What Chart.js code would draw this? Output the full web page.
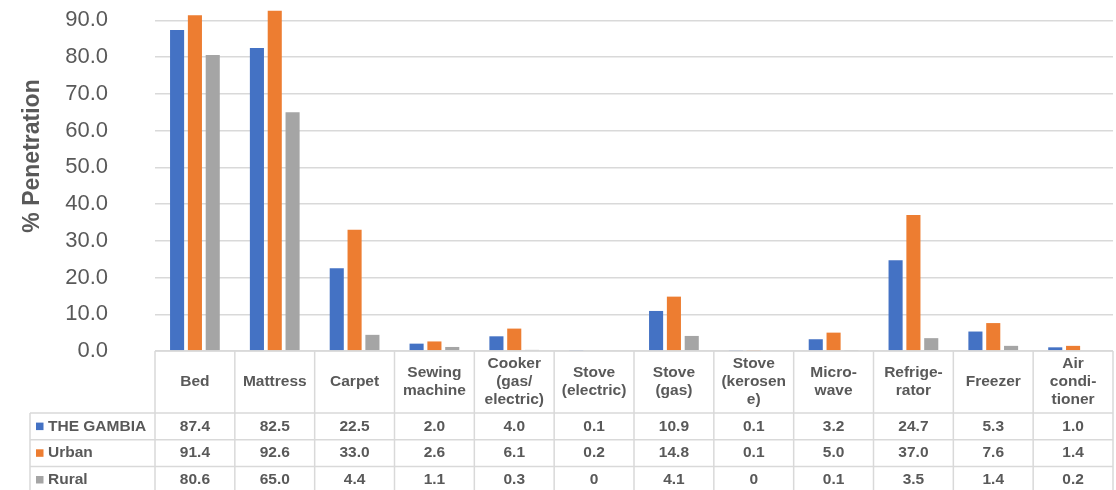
<!DOCTYPE html>
<html>
<head>
<meta charset="utf-8">
<title>Penetração de bens domésticos</title>
<script src="https://cdn.jsdelivr.net/npm/chart.js"></script>
<style>
  body { margin: 0; background: #ffffff; }
</style>
</head>
<body>
<canvas id="myChart" width="1116" height="490"></canvas>
<script>
// categorias (quebradas em linhas como aparecem no cabeçalho da tabela)
const categorias = [
    ['Bed'], ['Mattress'], ['Carpet'], ['Sewing', 'machine'],
    ['Cooker', '(gas/', 'electric)'], ['Stove', '(electric)'], ['Stove', '(gas)'],
    ['Stove', '(kerosen', 'e)'], ['Micro-', 'wave'], ['Refrige-', 'rator'],
    ['Freezer'], ['Air', 'condi-', 'tioner']
];
const series = ['THE GAMBIA', 'Urban', 'Rural'];
const gambia = [87.4, 82.5, 22.5, 2.0, 4.0, 0.1, 10.9, 0.1, 3.2, 24.7, 5.3, 1.0];
const urbano = [91.4, 92.6, 33.0, 2.6, 6.1, 0.2, 14.8, 0.1, 5.0, 37.0, 7.6, 1.4];
const rural = [80.6, 65.0, 4.4, 1.1, 0.3, 0, 4.1, 0, 0.1, 3.5, 1.4, 0.2];
const ticksY = [0, 10, 20, 30, 40, 50, 60, 70, 80, 90];
const topoY = 95;

const cores = ['#4472C4', '#ED7D31', '#A5A5A5'];
const corTexto = '#595959';
const corLinha = '#d9d9d9';
const fonte = '"Liberation Sans", Arial, sans-serif';

function formatar(v) {
    return v === 0 ? '0' : v.toFixed(1);
}

// tabela de dados embaixo do gráfico + título do eixo Y
const tabela = {
    id: 'tabela',
    afterDraw(chart) {
        const c = chart.ctx;
        const x = chart.scales.x;
        const area = chart.chartArea;
        const n = chart.data.labels.length;
        const larg = (x.right - x.left) / n;
        const topo = area.bottom;
        const cab = topo + 62;
        const linha = 26.7;
        const esq = 30;
        const fim = chart.height + 5;

        c.save();
        c.strokeStyle = corLinha;
        c.lineWidth = 1.5;
        c.beginPath();
        c.moveTo(x.left, topo);
        c.lineTo(x.right, topo);
        for (let k = 0; k < 4; k++) {
            c.moveTo(esq, cab + k * linha);
            c.lineTo(x.right, cab + k * linha);
        }
        for (let i = 0; i <= n; i++) {
            c.moveTo(x.left + i * larg, topo);
            c.lineTo(x.left + i * larg, fim);
        }
        c.moveTo(esq, cab);
        c.lineTo(esq, fim);
        c.stroke();

        c.fillStyle = corTexto;
        c.font = 'bold 15.5px ' + fonte;
        c.textAlign = 'center';
        c.textBaseline = 'middle';

        // cabeçalho
        chart.data.labels.forEach(function (lbl, i) {
            const cx = x.getPixelForValue(i);
            const y0 = (topo + cab) / 2 - (lbl.length - 1) * 9;
            lbl.forEach(function (t, j) {
                c.fillText(t, cx, y0 + j * 18);
            });
        });

        // linhas de valores
        chart.data.datasets.forEach(function (ds, s) {
            const cy = cab + s * linha + linha / 2;
            ds.data.forEach(function (v, i) {
                c.fillText(formatar(v), x.getPixelForValue(i), cy);
            });
            c.fillStyle = ds.backgroundColor;
            c.fillRect(36, cy - 3.75, 7.5, 7.5);
            c.fillStyle = corTexto;
            c.textAlign = 'left';
            c.fillText(ds.label, 48, cy);
            c.textAlign = 'center';
        });

        // título do eixo Y
        c.translate(32.5, 156);
        c.rotate(-Math.PI / 2);
        c.font = 'bold 23px ' + fonte;
        c.fillText('% Penetration', 0, 0);
        c.restore();
    }
};

//Gráfico de Barras
const ctx = document.getElementById('myChart');
new Chart(ctx, {
    type: 'bar',
    data: {
        labels: categorias,
        datasets: [
            { label: series[0], data: gambia, backgroundColor: cores[0] },
            { label: series[1], data: urbano, backgroundColor: cores[1] },
            { label: series[2], data: rural, backgroundColor: cores[2] }
        ]
    },
    options: {
        responsive: false,
        animation: false,
        devicePixelRatio: 1,
        layout: { padding: { top: 2, right: 3, bottom: 139, left: 0 } },
        datasets: {
            bar: { categoryPercentage: 0.67, barPercentage: 0.79, borderWidth: 0 }
        },
        plugins: {
            legend: { display: false },
            tooltip: { enabled: false }
        },
        scales: {
            x: { display: false },
            y: {
                min: 0,
                max: topoY,
                afterBuildTicks(axis) {
                    axis.ticks = ticksY.concat([topoY]).map(v => ({ value: v }));
                },
                afterFit(axis) {
                    axis.width = 155;
                    axis.paddingTop = 0;
                    axis.paddingBottom = 0;
                },
                border: { display: false },
                grid: {
                    drawTicks: false,
                    lineWidth: 1.5,
                    color: c => ticksY.includes(c.tick && c.tick.value) ? corLinha : 'rgba(0,0,0,0)'
                },
                ticks: {
                    padding: 47,
                    color: corTexto,
                    font: { family: fonte, size: 22 },
                    callback: v => ticksY.includes(v) ? v.toFixed(1) : null
                }
            }
        }
    },
    plugins: [tabela]
});
</script>
</body>
</html>
